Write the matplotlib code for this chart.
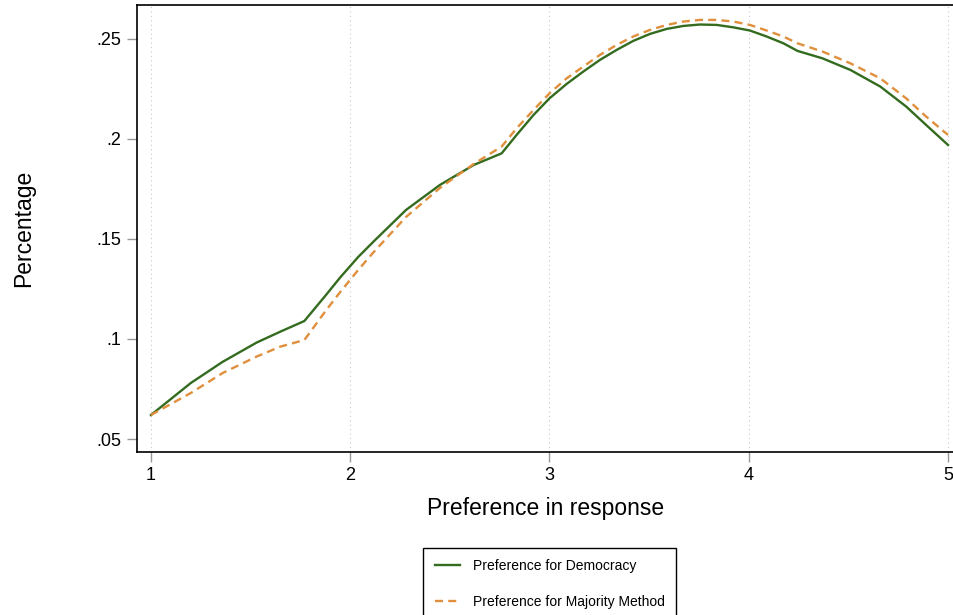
import matplotlib
matplotlib.use('Agg')
import matplotlib.pyplot as plt
from matplotlib.ticker import FuncFormatter

plt.rcParams['font.family'] = ['Liberation Sans', 'DejaVu Sans']

# values
pref = [1.0, 1.2, 1.36, 1.53, 1.65, 1.77, 1.88, 1.95, 2.04, 2.12, 2.28, 2.45, 2.62, 2.76,
        2.835, 2.92, 3.0, 3.086, 3.17, 3.253, 3.337, 3.42, 3.504, 3.588, 3.672, 3.755,
        3.839, 3.922, 4.006, 4.09, 4.174, 4.245, 4.37, 4.51, 4.66, 4.79, 4.89, 5.0]
democracy = [0.062, 0.078, 0.0886, 0.0982, 0.1037, 0.109, 0.1222, 0.1308, 0.141, 0.149,
             0.1645, 0.177, 0.187, 0.1928, 0.202, 0.212, 0.2203, 0.2275, 0.2337, 0.2395,
             0.2445, 0.249, 0.2525, 0.255, 0.2565, 0.2572, 0.257, 0.2558, 0.2542, 0.2512,
             0.2478, 0.244, 0.2403, 0.2345, 0.2262, 0.2162, 0.207, 0.197]
majority = [0.062, 0.073, 0.083, 0.0912, 0.0962, 0.0995, 0.1145, 0.1235, 0.1345, 0.1437,
            0.161, 0.1755, 0.1875, 0.1962, 0.2053, 0.2145, 0.2228, 0.2303, 0.2362, 0.242,
            0.247, 0.2512, 0.2545, 0.257, 0.2587, 0.2595, 0.2595, 0.2587, 0.257, 0.2542,
            0.2512, 0.2478, 0.2437, 0.2378, 0.2303, 0.2203, 0.2112, 0.202]

x_ticks = [1, 2, 3, 4, 5]
y_ticks = [0.05, 0.1, 0.15, 0.2, 0.25]

fig = plt.figure(figsize=(9.54, 6.15), dpi=100)
ax = fig.add_axes([0.1436, 0.265, 0.8564, 0.727])

# dotted vertical grid at the x ticks
for xv in x_ticks:
    ax.axvline(xv, color='#c8c8c8', lw=0.8, ls=(0, (1, 3)), zorder=0)

ax.plot(pref, democracy, color='#336b1f', lw=1.7, label='Preference for Democracy')
ax.plot(pref, majority, color='#e08f3d', lw=1.7, ls=(0, (3.4, 2.2)),
        label='Preference for Majority Method')

ax.set_xlim(0.93, 5.03)
ax.set_ylim(0.0435, 0.267)
ax.set_xticks(x_ticks)
ax.set_yticks(y_ticks)
ax.yaxis.set_major_formatter(FuncFormatter(lambda v, p: ('%g' % v).lstrip('0')))
ax.tick_params(axis='both', labelsize=13, color='#999999', length=7, width=1, pad=4)
for s in ax.spines.values():
    s.set_linewidth(1.2)
    s.set_color('black')

ax.set_xlabel('Preference in response', fontsize=16.5, labelpad=9)
ax.set_ylabel('Percentage', fontsize=16.5, labelpad=44)

fig.legend(loc='upper center', bbox_to_anchor=(0.5765, 1 - 548 / 615), fontsize=10,
           frameon=True, fancybox=False, edgecolor='black', framealpha=1,
           borderpad=0.8, labelspacing=1.6, handlelength=1.8, handletextpad=1.0,
           borderaxespad=0)

fig.savefig('out.png', dpi=100)
